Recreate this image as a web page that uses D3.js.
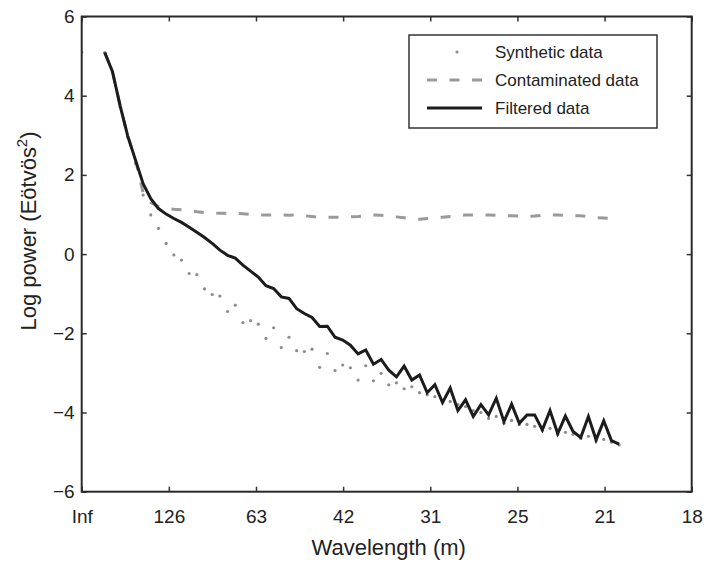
<!DOCTYPE html>
<html>
<head>
<meta charset="utf-8">
<script src="https://cdn.jsdelivr.net/npm/d3@7"></script>
<style>
  body { margin: 0; background: #fff; }
  svg { font-family: "Liberation Sans", Arial, Helvetica, sans-serif; }
</style>
</head>
<body>
<script>
// wavelength tick labels, equally spaced in wavenumber (tick j at k = j/126 m^-1)
const tickLabels = ['Inf', '126', '63', '42', '31', '25', '21', '18']
const yTicks = [-6, -4, -2, 0, 2, 4, 6]

// spectral samples: sample n sits at n * dk tick units
const dk = 0.0881

// synthetic data, samples n = 0..70 (null = not visible)
const synthetic = [5.1, null, null, 5.09, 4.6, 3.72, 2.95, 2.29, 1.49, 0.99,
  0.65, 0.27, -0.02, -0.15, -0.49, -0.52, -0.88, -1.02, -1.06, -1.45,
  -1.29, -1.73, -1.68, -1.77, -2.13, -1.86, -2.36, -2.10, -2.44, -2.46,
  -2.40, -2.86, -2.51, -2.94, -2.80, -2.87, -3.18, -2.82, -3.20, -3.01,
  -3.30, -3.25, -3.40, -3.35, -3.50, -3.55, -3.60, -3.70, -3.72, -3.80,
  -3.85, -3.95, -4.00, -4.15, -4.10, -4.27, -4.20, -4.30, -4.30, -4.35,
  -4.45, -4.40, -4.55, -4.50, -4.55, -4.65, -4.60, -4.72, -4.68, -4.75,
  -4.82]

// contaminated data, samples n = 3..70
const contamStart = 3
const contaminated = [5.09, 4.61, 3.75, 2.98, 2.38, 1.55, 1.30, 1.20, 1.15, 1.13,
  1.12, 1.10, 1.07, 1.05, 1.04, 1.03, 1.03, 1.03, 1.02, 1.00,
  0.99, 0.99, 0.99, 0.99, 0.98, 0.99, 0.97, 0.95, 0.93, 0.93,
  0.93, 0.93, 0.94, 0.95, 0.97, 0.99, 0.98, 0.96, 0.94, 0.92,
  0.89, 0.88, 0.90, 0.92, 0.93, 0.95, 0.97, 0.99, 0.99, 0.99,
  0.99, 0.98, 0.97, 0.97, 0.96, 0.95, 0.96, 0.98, 0.99, 0.99,
  0.98, 0.97, 0.97, 0.95, 0.92, 0.91, 0.90]

// filtered data, samples n = 3..70
const filtStart = 3
const filtered = [5.09, 4.61, 3.75, 2.98, 2.38, 1.78, 1.40, 1.15, 1.01, 0.90,
  0.80, 0.68, 0.55, 0.42, 0.27, 0.10, -0.03, -0.10, -0.28, -0.43,
  -0.58, -0.80, -0.87, -1.08, -1.12, -1.38, -1.50, -1.60, -1.83, -1.82,
  -2.10, -2.17, -2.30, -2.52, -2.42, -2.78, -2.66, -2.93, -3.10, -2.83,
  -3.18, -3.05, -3.50, -3.30, -3.75, -3.38, -3.95, -3.68, -4.10, -3.80,
  -4.06, -3.64, -4.23, -3.79, -4.27, -4.06, -4.06, -4.44, -3.95, -4.53,
  -4.09, -4.48, -4.63, -4.10, -4.69, -4.21, -4.71, -4.80]

const legendItems = ['Synthetic data', 'Contaminated data', 'Filtered data']

var width = 706, height = 564
var m = {left: 81.7, right: 691.7, top: 16.5, bottom: 491.7}

var svg = d3.select('body').append('svg')
    .attr('width', width)
    .attr('height', height)

var x = d3.scaleLinear().domain([0, tickLabels.length - 1]).range([m.left, m.right])
var y = d3.scaleLinear().domain([-6, 6]).range([m.bottom, m.top])

svg.append('clipPath').attr('id', 'plot')
    .append('rect')
    .attr('x', m.left).attr('y', m.top)
    .attr('width', m.right - m.left).attr('height', m.bottom - m.top)

var toPts = (arr, start) => arr.map((v, i) => ({n: i + start, v: v})).filter(d => d.v !== null)

var g = svg.append('g').attr('clip-path', 'url(#plot)')

// synthetic dots
g.selectAll('circle.syn')
    .data(toPts(synthetic, 0)).enter()
    .append('circle')
    .attr('class', 'syn')
    .attr('cx', d => x(d.n * dk))
    .attr('cy', d => y(d.v))
    .attr('r', 1.6)
    .attr('fill', '#8c8c8c')

var line = d3.line().x(d => x(d.n * dk)).y(d => y(d.v))

g.append('path')
    .datum(toPts(contaminated, contamStart))
    .attr('d', line)
    .attr('fill', 'none')
    .attr('stroke', '#9a9a9a')
    .attr('stroke-width', 3)
    .attr('stroke-dasharray', '10,12.5')

g.append('path')
    .datum(toPts(filtered, filtStart))
    .attr('d', line)
    .attr('fill', 'none')
    .attr('stroke', '#1c1c1c')
    .attr('stroke-width', 3)
    .attr('stroke-linejoin', 'miter')

// axes with inward ticks
var tickVals = d3.range(tickLabels.length)
var styleAxis = sel => {
    sel.select('.domain').remove()
    sel.selectAll('.tick line').attr('stroke', '#333').attr('stroke-width', 1.5)
    sel.selectAll('.tick text').attr('fill', '#222')
}

svg.append('g')
    .attr('transform', `translate(0,${m.bottom})`)
    .call(d3.axisBottom(x).tickValues(tickVals).tickFormat(i => tickLabels[i])
        .tickSize(-5).tickPadding(17.5))
    .call(styleAxis)
    .selectAll('text').attr('font-size', 19).attr('font-family', null)

svg.append('g')
    .attr('transform', `translate(0,${m.top})`)
    .call(d3.axisTop(x).tickValues(tickVals).tickFormat('').tickSize(-5))
    .call(styleAxis)

svg.append('g')
    .attr('transform', `translate(${m.left},0)`)
    .call(d3.axisLeft(y).tickValues(yTicks).tickSize(-5).tickPadding(7))
    .call(styleAxis)
    .selectAll('text').attr('font-size', 19).attr('font-family', null)

svg.append('g')
    .attr('transform', `translate(${m.right},0)`)
    .call(d3.axisRight(y).tickValues(yTicks).tickFormat('').tickSize(-5))
    .call(styleAxis)

svg.selectAll('.tick').filter(function () { return false })

svg.append('rect')
    .attr('x', m.left).attr('y', m.top)
    .attr('width', m.right - m.left).attr('height', m.bottom - m.top)
    .attr('fill', 'none')
    .attr('stroke', '#2a2a2a')
    .attr('stroke-width', 2)

// axis titles
svg.append('text')
    .attr('x', (m.left + m.right) / 2 + 2)
    .attr('y', 555)
    .attr('text-anchor', 'middle')
    .attr('font-size', 22)
    .attr('fill', '#222')
    .text('Wavelength (m)')

var yt = svg.append('text')
    .attr('transform', 'translate(36,231) rotate(-90)')
    .attr('text-anchor', 'middle')
    .attr('font-size', 22)
    .attr('fill', '#222')
yt.append('tspan').text('Log power (Eötvös')
yt.append('tspan').attr('font-size', 15).attr('dy', -9).text('2')
yt.append('tspan').attr('dy', 9).text(')')

// legend
var lg = svg.append('g')
lg.append('rect')
    .attr('x', 409).attr('y', 35)
    .attr('width', 248).attr('height', 93)
    .attr('fill', '#fff')
    .attr('stroke', '#333')
    .attr('stroke-width', 1.5)

var rows = [52, 80, 108]
lg.append('circle').attr('cx', 457).attr('cy', rows[0]).attr('r', 1.6).attr('fill', '#8c8c8c')
lg.append('line')
    .attr('x1', 427).attr('x2', 482).attr('y1', rows[1]).attr('y2', rows[1])
    .attr('stroke', '#9a9a9a').attr('stroke-width', 3).attr('stroke-dasharray', '10,12.5')
lg.append('line')
    .attr('x1', 427).attr('x2', 482).attr('y1', rows[2]).attr('y2', rows[2])
    .attr('stroke', '#1c1c1c').attr('stroke-width', 3)

lg.selectAll('text.leg')
    .data(legendItems).enter()
    .append('text')
    .attr('class', 'leg')
    .attr('x', 495)
    .attr('y', (d, i) => rows[i] + 5.5)
    .attr('font-size', 17)
    .attr('fill', '#222')
    .text(d => d)
</script>
</body>
</html>
